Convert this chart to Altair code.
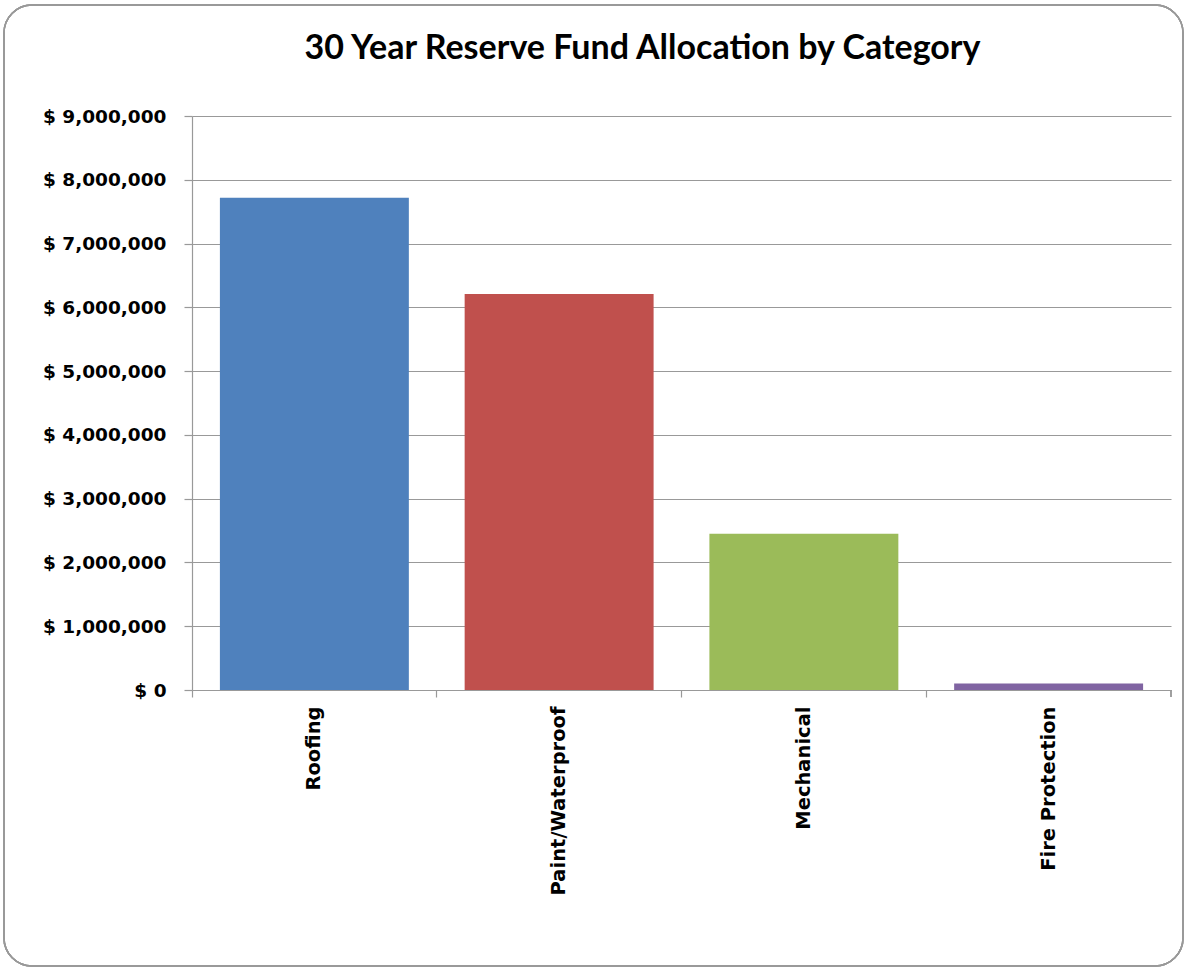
import altair as alt
import pandas as pd

categories = ["Roofing", "Paint/Waterproof", "Mechanical", "Fire Protection"]
values = [7720000, 6210000, 2450000, 100000]
colors = ["#4F81BD", "#C0504D", "#9BBB59", "#8064A2"]
y_ticks = [0, 1000000, 2000000, 3000000, 4000000, 5000000, 6000000, 7000000, 8000000, 9000000]

df = pd.DataFrame({"Category": categories, "Value": values})

W, H = 979, 574

bars = alt.Chart(df).mark_bar(width={"band": 0.772}).encode(
    x=alt.X("Category:N", sort=categories, title=None,
            scale=alt.Scale(paddingInner=0, paddingOuter=0),
            axis=alt.Axis(labelAngle=-90, labelFont="DejaVu Sans", labelFontWeight="bold",
                          labelFontSize=19.5, labelColor="#000", labelPadding=9, labelLimit=400,
                          bandPosition=0, tickSize=7, tickColor="#999", domainColor="#999",
                          labelAlign="right", labelBaseline="middle")),
    y=alt.Y("Value:Q", title=None,
            scale=alt.Scale(domain=[0, 9000000], nice=False),
            axis=alt.Axis(values=y_ticks, labelExpr="'$ ' + format(datum.value, ',')",
                          labelFont="DejaVu Sans", labelFontWeight="bold", labelFontSize=18.5,
                          labelColor="#000", labelPadding=18, tickSize=8, tickColor="#999",
                          domainColor="#999", gridColor="#999", grid=True)),
    color=alt.Color("Category:N", sort=categories,
                    scale=alt.Scale(domain=categories, range=colors), legend=None),
)

end_tick = alt.Chart(df).mark_rule(color="#999").encode(
    x=alt.value(W), y=alt.value(H), y2=alt.value(H + 7)
)

frame = alt.Chart(df).mark_rect(fill=None, stroke="#999", strokeWidth=1.5, cornerRadius=28).encode(
    x=alt.value(-188), x2=alt.value(991), y=alt.value(-111), y2=alt.value(850)
)

chart = alt.layer(frame, bars, end_tick).properties(
    width=W, height=H,
    title=alt.Title("30 Year Reserve Fund Allocation by Category", font="Lato",
                    fontSize=34, fontWeight="bold", color="#000", anchor="middle",
                    dx=-39, offset=-96, baseline="bottom"),
    autosize=alt.AutoSizeParams(type="none"),
    padding={"left": 192, "top": 116, "right": 16, "bottom": 281},
).configure_view(stroke=None).configure_axis(gridWidth=1, domainWidth=1.2, tickWidth=1.2)

chart.save("out.html", embed_options={"renderer": "svg", "actions": False})
